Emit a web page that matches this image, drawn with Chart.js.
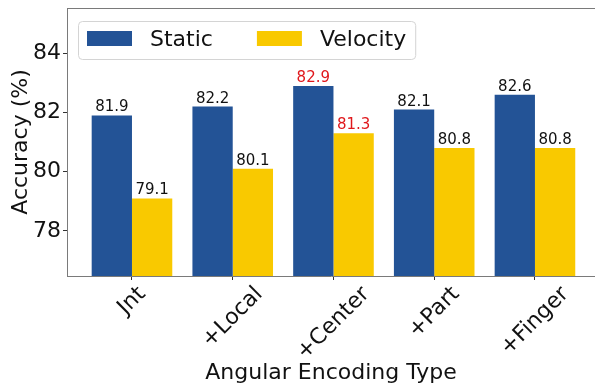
<!DOCTYPE html>
<html>
<head>
<meta charset="utf-8">
<title>Angular Encoding Type</title>
<script src="https://cdn.jsdelivr.net/npm/chart.js@4.4.1/dist/chart.umd.min.js"></script>
<style>
  html, body { margin: 0; padding: 0; background: #fff; overflow: hidden; }
  canvas { display: block; }
</style>
</head>
<body>
<canvas id="myChart" width="595" height="387"></canvas>
<script>
'use strict';

var categories = ['Jnt', '+Local', '+Center', '+Part', '+Finger'];
var seriesNames = ['Static', 'Velocity'];
var staticAcc = [81.9, 82.2, 82.9, 82.1, 82.6];
var velocityAcc = [79.1, 80.1, 81.3, 80.8, 80.8];
var bestIndex = [2];
var yTicks = [78, 80, 82, 84];

var blue = '#235396';
var yellow = '#f9c900';
var red = '#e0181c';
var spine = '#7a7a7a';

Chart.defaults.font.family = 'DejaVu Sans';
Chart.defaults.color = '#111';

function toPoints(values) {
    return values.map(function (v, i) {
        return { x: i, y: v };
    });
}

// value labels above each bar
var barLabels = {
    id: 'barLabels',
    afterDatasetsDraw: function (chart) {
        var ctx = chart.ctx;
        ctx.save();
        ctx.font = '15px "DejaVu Sans"';
        ctx.textAlign = 'center';
        ctx.textBaseline = 'alphabetic';
        chart.data.datasets.forEach(function (ds, d) {
            var meta = chart.getDatasetMeta(d);
            meta.data.forEach(function (bar, i) {
                ctx.fillStyle = bestIndex.indexOf(i) >= 0 ? red : '#111';
                ctx.fillText(ds.data[i].y.toFixed(1), bar.x, bar.y - 4);
            });
        });
        ctx.restore();
    }
};

// rotated category names, centred under the ticks like matplotlib
var xLabels = {
    id: 'xLabels',
    afterDraw: function (chart) {
        var ctx = chart.ctx;
        var xs = chart.scales.x;
        var top = chart.chartArea.bottom + 7;
        var s = Math.SQRT1_2;
        ctx.save();
        ctx.font = '22px "DejaVu Sans"';
        ctx.fillStyle = '#111';
        ctx.textAlign = 'center';
        ctx.textBaseline = 'middle';
        categories.forEach(function (name, i) {
            var w = ctx.measureText(name).width;
            var h = 22;
            var boxH = (w + h) * s;
            ctx.save();
            ctx.translate(xs.getPixelForValue(i), top + boxH / 2);
            ctx.rotate(-Math.PI / 4);
            ctx.fillText(name, 0, 0);
            ctx.restore();
        });
        ctx.restore();
    }
};

// top spine and the legend box inside the plot
var frameAndLegend = {
    id: 'frameAndLegend',
    afterDraw: function (chart) {
        var ctx = chart.ctx;
        var area = chart.chartArea;
        ctx.save();
        ctx.strokeStyle = spine;
        ctx.lineWidth = 1;
        ctx.beginPath();
        ctx.moveTo(area.left, area.top + 0.5);
        ctx.lineTo(area.right, area.top + 0.5);
        ctx.stroke();

        ctx.font = '22px "DejaVu Sans"';
        var boxX = 78, boxY = 21, boxH = 38;
        var x = boxX + 9;
        var items = [];
        chart.data.datasets.forEach(function (ds) {
            var w = ctx.measureText(ds.label).width;
            items.push({ x: x, color: ds.backgroundColor, label: ds.label });
            x = x + 45 + 18 + w + 44;
        });
        var boxW = x - 44 + 9 - boxX;

        ctx.beginPath();
        ctx.roundRect(boxX + 0.5, boxY + 0.5, boxW, boxH, 4);
        ctx.fillStyle = 'rgba(255,255,255,0.8)';
        ctx.fill();
        ctx.strokeStyle = '#d4d4d4';
        ctx.stroke();

        ctx.textBaseline = 'alphabetic';
        ctx.textAlign = 'left';
        items.forEach(function (it) {
            ctx.fillStyle = it.color;
            ctx.fillRect(it.x, boxY + 10, 45, 15);
            ctx.fillStyle = '#111';
            ctx.fillText(it.label, it.x + 63, boxY + 25);
        });
        ctx.restore();
    }
};

var ctx = document.getElementById('myChart').getContext('2d');
var chart = new Chart(ctx, {
    type: 'bar',
    data: {
        datasets: [{
            label: seriesNames[0],
            backgroundColor: blue,
            data: toPoints(staticAcc)
        },
        {
            label: seriesNames[1],
            backgroundColor: yellow,
            data: toPoints(velocityAcc)
        }]
    },
    options: {
        responsive: false,
        animation: false,
        layout: { padding: { top: 8, left: 0, right: 0, bottom: 0 } },
        datasets: {
            bar: { categoryPercentage: 0.8, barPercentage: 1.0 }
        },
        plugins: {
            legend: { display: false },
            tooltip: { enabled: false }
        },
        scales: {
            x: {
                type: 'linear',
                min: -0.645,
                max: 4.596,
                offset: false,
                afterBuildTicks: function (scale) {
                    scale.ticks = categories.map(function (c, i) { return { value: i }; });
                },
                afterFit: function (scale) {
                    scale.height = 111;
                    scale.paddingLeft = 0;
                    scale.paddingRight = 0;
                },
                ticks: { display: false },
                grid: { drawOnChartArea: false, offset: false, tickLength: 4, color: '#333' },
                border: { display: true, color: spine, width: 1 },
                title: {
                    display: true,
                    text: 'Angular Encoding Type',
                    font: { size: 22 },
                    color: '#111',
                    padding: { top: 0, bottom: 1 }
                }
            },
            y: {
                min: 76.48,
                max: 85.53,
                afterBuildTicks: function (scale) {
                    scale.ticks = yTicks.map(function (v) { return { value: v }; });
                },
                afterFit: function (scale) {
                    scale.width = 67;
                    scale.paddingTop = 0;
                    scale.paddingBottom = 0;
                },
                ticks: { font: { size: 22 }, color: '#111', padding: 2 },
                grid: { drawOnChartArea: false, tickLength: 4, color: '#333' },
                border: { display: true, color: spine, width: 1 },
                title: {
                    display: true,
                    text: 'Accuracy (%)',
                    font: { size: 22 },
                    color: '#111',
                    padding: { top: 8, bottom: 0 }
                }
            }
        }
    },
    plugins: [barLabels, xLabels, frameAndLegend]
});
</script>
</body>
</html>
